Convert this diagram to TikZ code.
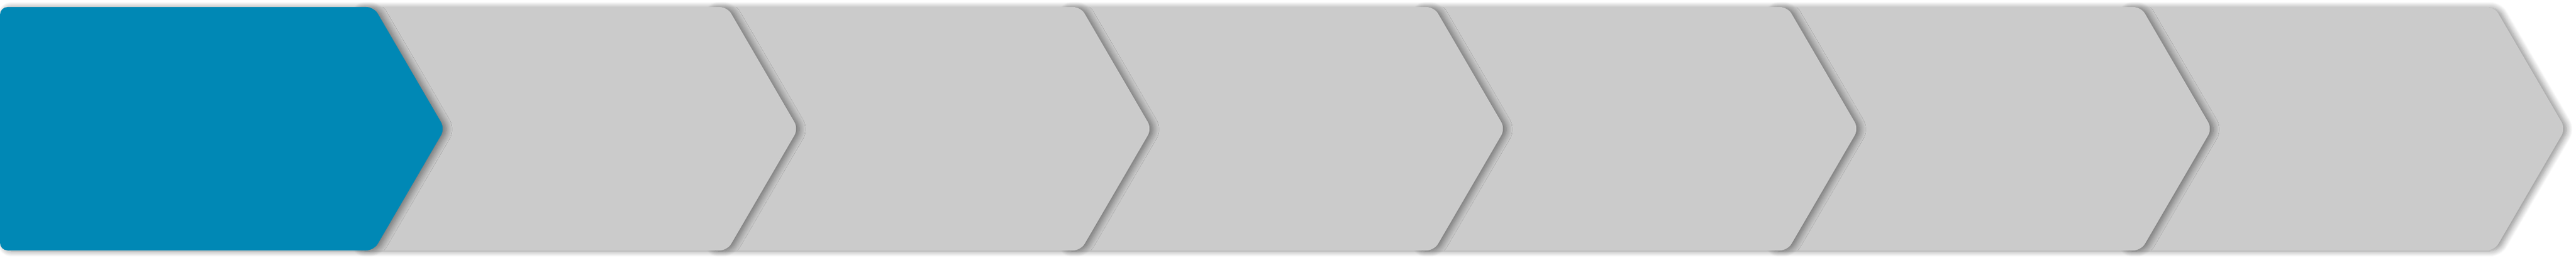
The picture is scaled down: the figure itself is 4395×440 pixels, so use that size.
\documentclass[tikz,border=0pt]{standalone}
\usepackage[dvipsnames]{xcolor}
\usepackage{tikz}
\usetikzlibrary{shadows.blur}
\definecolor{stepblue}{RGB}{0,136,181}
\definecolor{stepgrey}{RGB}{203,203,203}

\tikzset{
    chevron/.style={rounded corners=13pt,
        blur shadow={shadow xshift=6pt, shadow yshift=-1pt,
            shadow blur radius=10pt, shadow blur steps=12, shadow opacity=45}}
}

\begin{document}
\begin{tikzpicture}[x=1pt,y=1pt]
    \useasboundingbox (0,0) rectangle (4395,440);
    \foreach \i/\col in {6/stepgrey,5/stepgrey,4/stepgrey,3/stepgrey,2/stepgrey,1/stepgrey,0/stepblue} {
        \pgfmathsetmacro{\xl}{603*\i}
        \path[chevron, fill=\col]
            (\xl,220) -- (\xl,428) -- (\xl+638,428) -- (\xl+759,220)
            -- (\xl+638,12) -- (\xl,12) -- cycle;
    }
\end{tikzpicture}
\end{document}
